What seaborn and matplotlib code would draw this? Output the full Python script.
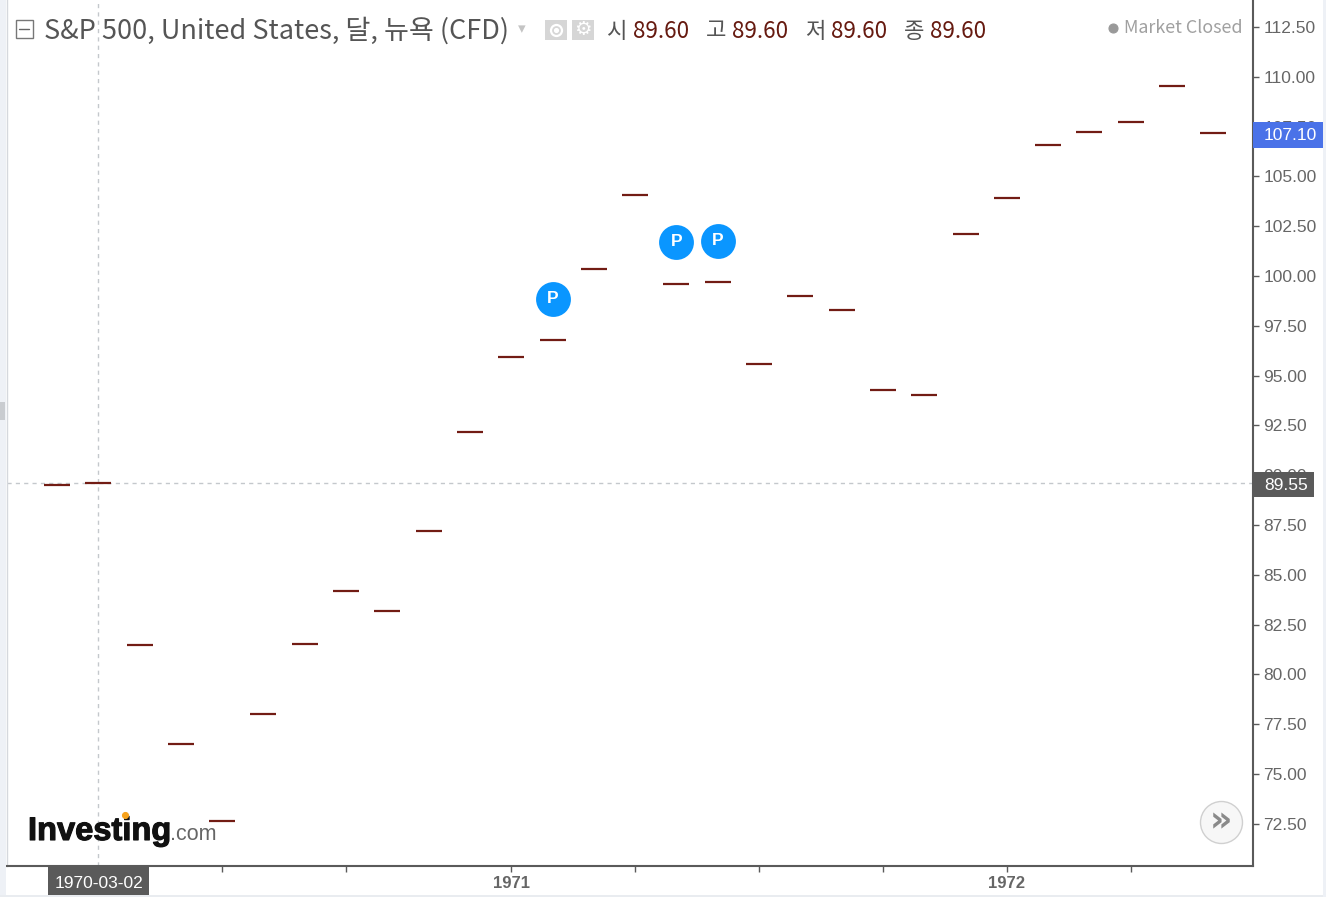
import numpy as np
import pandas as pd
import seaborn as sns
import matplotlib.pyplot as plt
import matplotlib.patheffects as pe
from matplotlib.patches import Rectangle

W, H = 1326, 897

# monthly closes, first bar is 1970-02
closes = [89.5, 89.6, 81.48, 76.5, 72.65, 78.0, 81.5, 84.2, 83.2, 87.2,
          92.17, 95.92, 96.78, 100.33, 104.05, 99.62, 99.7, 95.6, 99.0, 98.3,
          94.27, 94.02, 102.1, 103.9, 106.6, 107.25, 107.75, 109.55, 107.17]
y_ticks = [72.5, 75, 77.5, 80, 82.5, 85, 87.5, 90, 92.5, 95, 97.5, 100,
           102.5, 105, 107.5, 110, 112.5]
x_ticks = [4, 7, 11, 14, 17, 20, 23, 26]
x_labels = ['', '', '1971', '', '', '', '1972', '']
pin_months = [12, 15, 16]
pin_values = [98.85, 101.7, 101.78]
cross_month = 1
cross_value = 89.6

GREY = '#666666'
DARK = '#5a5a5a'
BAR = '#721c14'
VAL = '#661a10'

sns.set_theme(style='white')
plt.rcParams['font.family'] = ['Liberation Sans', 'DejaVu Sans']

fig = plt.figure(figsize=(W / 100, H / 100), dpi=100)
ax = fig.add_axes([7 / W, 1 - 866 / H, (1253 - 7) / W, 866 / H])


def fx(x):
    return x / W


def fy(y):
    return 1 - y / H


def box(x0, y0, x1, y1, color, **kw):
    fig.add_artist(Rectangle((fx(x0), fy(y1)), (x1 - x0) / W, (y1 - y0) / H,
                             transform=fig.transFigure, facecolor=color,
                             edgecolor=kw.pop('edgecolor', 'none'), **kw))


def dot(x, y, r, color, **kw):
    fig.add_artist(plt.Line2D([fx(x)], [fy(y)], marker='o', markersize=r * 2 * 0.72,
                              markerfacecolor=color, linestyle='none',
                              markeredgecolor=kw.pop('edge', color),
                              markeredgewidth=kw.pop('mew', 0.8),
                              transform=fig.transFigure, **kw))


df = pd.DataFrame({'month': np.arange(len(closes)), 'close': closes})
sns.scatterplot(data=df, x='month', y='close', marker='_', s=355, color=BAR,
                linewidth=1.6, ax=ax, zorder=3)

pins = pd.DataFrame({'month': pin_months, 'value': pin_values})
sns.scatterplot(data=pins, x='month', y='value', marker='o', s=630, color='#0a96ff',
                linewidth=0, ax=ax, zorder=4)
for m, v in zip(pin_months, pin_values):
    ax.text(m, v + 0.02, 'P', color='white', fontsize=12.5, fontweight='bold',
            ha='center', va='center', zorder=5)

ax.axvline(cross_month, color='#c4c8cc', lw=1, ls=(0, (3, 3)), zorder=1)
ax.axhline(cross_value, color='#c4c8cc', lw=1, ls=(0, (3, 3)), zorder=1)

ax.set_xlim(-1.21, 28.96)
ax.set_ylim(70.38, 113.855)
ax.set_xlabel('')
ax.set_ylabel('')
ax.set_xticks(x_ticks)
ax.set_xticklabels(x_labels, fontsize=12, fontweight='bold', color=GREY)
ax.yaxis.tick_right()
ax.set_yticks(y_ticks)
ax.set_yticklabels([f'{t:.2f}' for t in y_ticks], fontsize=12.5, color=GREY)
ax.tick_params(axis='x', bottom=True, length=4, width=1, color=DARK, pad=3.5)
ax.tick_params(axis='y', right=True, length=4, width=1, color=DARK, pad=3.5)
ax.spines['top'].set_visible(False)
ax.spines['left'].set_color('#d5d8dd')
ax.spines['left'].set_linewidth(1)
for side in ['right', 'bottom']:
    ax.spines[side].set_color(DARK)
    ax.spines[side].set_linewidth(1.5)

# page edges
box(0, 0, 6, H, '#eef1f6')
box(0, 895, W, H, '#e9ecf0')
box(1323, 0, W, H, '#eef1f6')
box(0, 402, 5, 420, '#c9ccd0')

# price flags on the axes
box(1253, 122, 1323, 148, '#4a72e8', zorder=6)
fig.text(fx(1264), fy(135), '107.10', color='white', fontsize=12.5, va='center', zorder=7)
box(1253, 472, 1314, 497, DARK, zorder=6)
fig.text(fx(1264), fy(485), '89.55', color='white', fontsize=12.5, va='center', zorder=7)
box(48, 866, 149, 895, DARK, zorder=6)
fig.text(fx(98.5), fy(883.5), '1970-03-02', color='white', fontsize=12.5, ha='center',
         va='center', zorder=7)

# header row
KR = ['Noto Sans CJK KR', 'DejaVu Sans']
fig.add_artist(Rectangle((fx(15.5), fy(38)), 17 / W, 18 / H, transform=fig.transFigure,
                         facecolor='white', edgecolor='#777777', lw=1))
fig.add_artist(plt.Line2D([fx(19), fx(29)], [fy(29), fy(29)], color='#666666', lw=1,
                          transform=fig.transFigure))
fig.text(fx(44), fy(31), 'S&P 500, United States, 달, 뉴욕 (CFD)', family=KR,
         fontsize=19.5, color='#555555', va='center')
fig.text(fx(522), fy(29), '▾', family=['DejaVu Sans'], fontsize=11, color='#c4c4c4',
         ha='center', va='center')
box(545, 20, 567, 40, '#d6d6d6')
box(572, 20, 594, 40, '#d6d6d6')
dot(556, 30, 5.5, '#d6d6d6', edge='white', mew=1.6)
dot(556, 30, 2, 'white')
fig.text(fx(583), fy(29.5), '⚙', family=['DejaVu Sans'], fontsize=14, color='white',
         ha='center', va='center')

for name, xn, xv in [('시', 607, 633), ('고', 706, 732), ('저', 805, 831), ('종', 904, 930)]:
    fig.text(fx(xn), fy(31), name, family=KR, fontsize=16, color='#555555', va='center')
    fig.text(fx(xv), fy(32), '89.60', family=KR, fontsize=16.2, color=VAL, va='center')

dot(1113, 28, 4.5, '#999999')
fig.text(fx(1124), fy(28), 'Market Closed', family=KR, fontsize=12.9, color='#a0a0a0',
         va='center')

# logo
logo = fig.text(fx(28), fy(840), 'Investing', fontsize=23.5, fontweight='bold',
                color='#111111', va='baseline', zorder=2)
logo.set_path_effects([pe.withStroke(linewidth=0.8, foreground='#111111')])
fig.text(fx(170), fy(840), '.com', fontsize=15.5, color='#666666', va='baseline', zorder=2)
dot(125, 815, 3, '#f7a21b', zorder=3)

# scroll button
dot(1220.5, 821.5, 21, '#f7f7f7', edge='#d0d0d0', mew=1, zorder=4)
fig.text(fx(1220.5), fy(821), '»', family=['DejaVu Sans'], fontsize=25, fontweight='bold',
         color='#8a8a8a', ha='center', va='center', zorder=5)

fig.savefig('out.png', dpi=100)
